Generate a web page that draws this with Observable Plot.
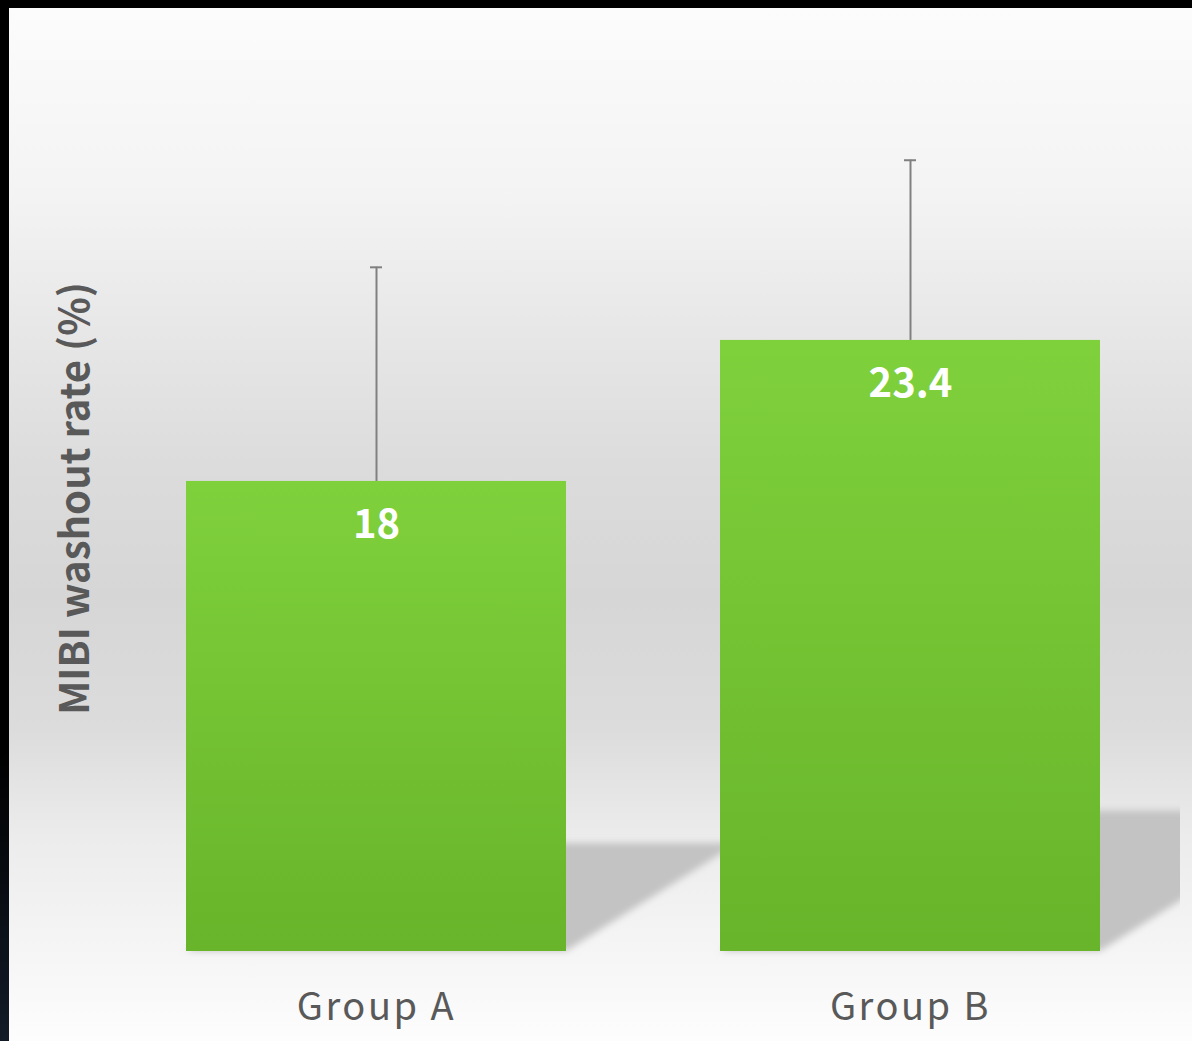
<!DOCTYPE html>
<html><head><meta charset="utf-8">
<script src="https://cdn.jsdelivr.net/npm/d3@7"></script>
<script src="https://cdn.jsdelivr.net/npm/@observablehq/plot@0.6"></script>
<style>
html,body{margin:0;padding:0;width:1192px;height:1041px;overflow:hidden;}
body{background:linear-gradient(to bottom,#000 0%,#000 72%,#121b27 100%);position:relative;}
#chart{position:absolute;left:9px;top:8px;}
#chart svg{display:block;}
</style></head><body><div id="chart"></div>
<script>
const groups = ["Group A", "Group B"];
const values = [18, 23.4];
const errors = [8.2, 6.9];
const valueLabels = ["18", "23.4"];
const yLabel = "MIBI washout rate (%)";

const data = groups.map((g, i) => ({group: g, value: values[i], err: errors[i], label: valueLabels[i]}));

const W = 1183, H = 1033;

const shadows = Plot.barY(data, {
  x: "group", y: "value", fill: "#c3c3c3",
  render(index, scales, vals, dims) {
    const bw = scales.x.bandwidth();
    const g = d3.create("svg:g");
    const defs = g.append("defs");
    defs.append("clipPath").attr("id", "shadowClip")
      .append("rect").attr("x", 0).attr("y", 0).attr("width", dims.width - 12).attr("height", dims.height);
    defs.append("filter").attr("id", "shadowBlur").attr("x", "-20%").attr("y", "-20%").attr("width", "140%").attr("height", "140%")
      .append("feGaussianBlur").attr("stdDeviation", 3.5);
    const inner = g.append("g").attr("clip-path", "url(#shadowClip)");
    for (const i of index) {
      const L = vals.x[i], R = L + bw;
      const yb = vals.y1[i], yt = vals.y2[i];
      const h = 0.23 * (yb - yt), dx = h / 0.63;
      inner.append("path")
        .attr("d", `M${L},${yb}L${R},${yb}L${R + dx},${yb - h}L${L + dx},${yb - h}Z`)
        .attr("fill", "#c3c3c3")
        .attr("filter", "url(#shadowBlur)");
    }
    return g.node();
  }
});

const chart = Plot.plot({
  width: W,
  height: H,
  marginLeft: 177,
  marginRight: 92,
  marginTop: 29,
  marginBottom: 90,
  style: {
    background: "linear-gradient(to bottom, #fcfcfc 0%, #f9f9f9 6%, #f3f3f3 18.6%, #e7e7e7 31.4%, #dcdcdc 44.2%, #d6d6d6 57%, #dcdcdc 69.9%, #e6e6e6 76.4%, #ececec 80.3%, #f5f5f5 91%, #fdfdfd 100%)",
    fontFamily: "'Noto Sans CJK JP', 'Noto Sans', sans-serif",
    color: "#595959",
    overflow: "visible"
  },
  x: {domain: groups, paddingInner: 0.2884, paddingOuter: 0},
  y: {domain: [0, 35], axis: null},
  marks: [
    shadows,
    Plot.ruleX(data, {x: "group", y1: "value", y2: d => d.value + d.err, stroke: "#808080", strokeWidth: 2}),
    Plot.tickY(data, {x: "group", y: d => d.value + d.err, stroke: "#808080", strokeWidth: 2, insetLeft: 184, insetRight: 184}),
    Plot.barY(data, {x: "group", y: "value", fill: "url(#barGrad)"}),
    Plot.text(data, {x: "group", y: "value", text: "label", dy: 44, fill: "#ffffff", fontSize: 40, fontWeight: "bold"}),
    Plot.text([yLabel], {text: d => d, frameAnchor: "left", textAnchor: "middle", rotate: -90, dx: -110, dy: 4, fontSize: 40, fontWeight: "bold", fill: "#595959"}),
    Plot.axisX({tickSize: 0, tickPadding: 42, fontSize: 38, label: null, fill: "#595959"})
  ]
});

const defs = d3.select(chart).insert("defs", ":first-child");
const grad = defs.append("linearGradient").attr("id", "barGrad").attr("x1", 0).attr("y1", 0).attr("x2", 0).attr("y2", 1);
grad.append("stop").attr("offset", "0%").attr("stop-color", "#7fd13c");
grad.append("stop").attr("offset", "100%").attr("stop-color", "#68b42a");

d3.select(chart).selectAll("g[aria-label='x-axis tick label'] text").style("letter-spacing", "2.5px");

document.getElementById("chart").appendChild(chart);
</script>
</body></html>
